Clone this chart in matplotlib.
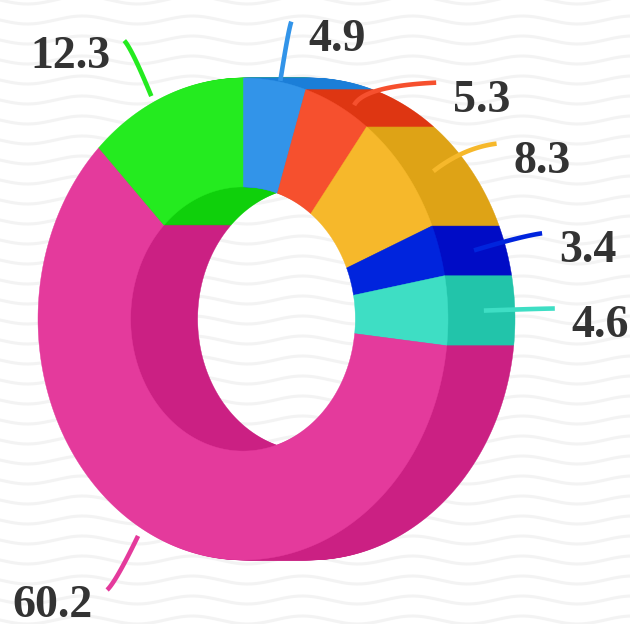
import numpy as np
import matplotlib
matplotlib.use("Agg")
import matplotlib.pyplot as plt
from matplotlib.collections import PolyCollection

# data
values = [4.9, 5.3, 8.3, 3.4, 4.6, 60.2, 12.3]
labels = ['4.9', '5.3', '8.3', '3.4', '4.6', '60.2', '12.3']
front_colors = ['#3294E9', '#F6502E', '#F6B82B', '#0024DD', '#3EDEC4', '#E43A9C', '#24EB1F']
side_colors = ['#1B7ED8', '#DE3612', '#DEA316', '#000CC6', '#22C4AA', '#CB2083', '#0FD00B']

# geometry (pixels)
cx, cy = 243, 319
rx, ry = 205, 241
inner = 0.548
depth = 67
label_gap = 61

fig = plt.figure(figsize=(6.3, 6.24), dpi=100)
ax = fig.add_axes([0, 0, 1, 1])
ax.set_xlim(0, 630)
ax.set_ylim(624, 0)
ax.axis('off')

# wavy background
xs = np.linspace(0, 630, 400)
for y0 in np.arange(-20, 660, 20):
    ax.plot(xs, y0 + 4 * np.sin(2 * np.pi * xs / 110), color='#F3F3F3', lw=2.2, zorder=0)

total = sum(values)
bounds = np.concatenate([[0], np.cumsum(values)]) / total * 2 * np.pi
mids = (bounds[:-1] + bounds[1:]) / 2


def wedge(a0, a1, shift):
    th = np.linspace(a0, a1, max(int((a1 - a0) * 60), 4))
    ox = cx + shift + rx * np.sin(th)
    oy = cy - ry * np.cos(th)
    ix = cx + shift + inner * rx * np.sin(th[::-1])
    iy = cy - inner * ry * np.cos(th[::-1])
    return np.column_stack([np.concatenate([ox, ix]), np.concatenate([oy, iy])])


# extruded body: stacked copies from back to front
for t in np.arange(depth, 0, -1):
    polys = [wedge(bounds[i], bounds[i + 1], t) for i in range(len(values))]
    ax.add_collection(PolyCollection(polys, facecolors=side_colors,
                                     edgecolors=side_colors, linewidths=0.3, zorder=2))

polys = [wedge(bounds[i], bounds[i + 1], 0) for i in range(len(values))]
ax.add_collection(PolyCollection(polys, facecolors=front_colors,
                                 edgecolors=front_colors, linewidths=0.3, zorder=3))

# label layout
R1 = 241
R2x, R2y = 312, 301
ends = {}
right = [i for i in range(len(values)) if mids[i] < np.pi]
left = [i for i in range(len(values)) if mids[i] >= np.pi]
prev = -1e9
for i in right:
    y = max(cy - R2y * np.cos(mids[i]), prev + label_gap)
    prev = y
    x = cx + R2x * np.sqrt(max(1 - ((y - cy) / R2y) ** 2, 0))
    ends[i] = (x, y)
for i in left:
    y = cy - R2y * np.cos(mids[i])
    x = cx - R2x * np.sqrt(max(1 - ((y - cy) / R2y) ** 2, 0))
    ends[i] = (x, y)

for i in range(len(values)):
    th = mids[i]
    d = np.array([np.sin(th), -np.cos(th)])
    S = np.array([cx + R1 * d[0], cy + R1 * d[1]])
    E = np.array(ends[i])
    dist = np.hypot(*(E - S))
    u = (E[1] - S[1]) / d[1] if abs(d[1]) > 1e-3 else dist
    u = min(max(u, 0), dist) * 0.85
    C = S + d * u
    s = np.linspace(0, 1, 50)[:, None]
    B = (1 - s) ** 2 * S + 2 * (1 - s) * s * C + s ** 2 * E
    ax.plot(B[:, 0], B[:, 1], color=front_colors[i], lw=3.3,
            solid_capstyle='butt', zorder=5)
    if i in right:
        ax.text(E[0] + 17, E[1] + 29, labels[i], ha='left', va='baseline',
                fontsize=33, fontweight='bold', family='Liberation Serif',
                color='#333333', zorder=6)
    else:
        ax.text(E[0] - 14, E[1] + 27, labels[i], ha='right', va='baseline',
                fontsize=33, fontweight='bold', family='Liberation Serif',
                color='#333333', zorder=6)

fig.savefig('out.png', dpi=100)
